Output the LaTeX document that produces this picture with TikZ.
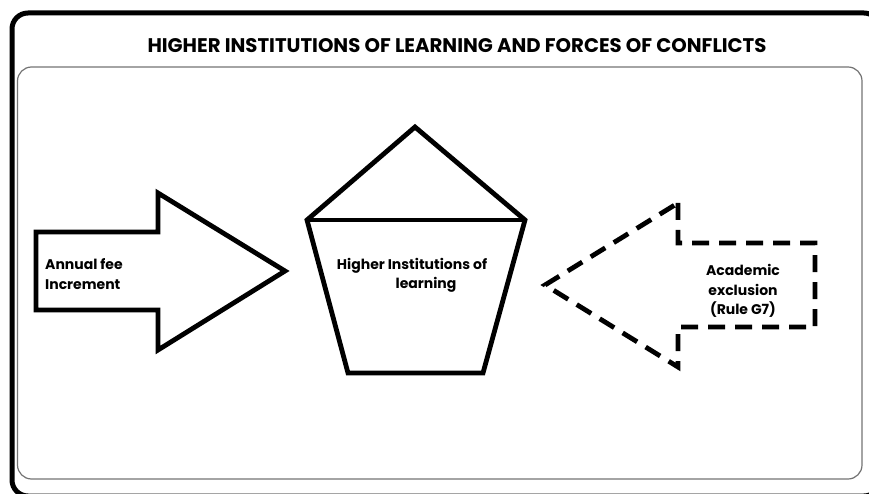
\documentclass[tikz,border=0pt]{standalone}
\usepackage{fontspec}
\setmainfont{Poppins}
\begin{document}
\begin{tikzpicture}[x=1pt,y=-1pt,line join=miter,
  thickline/.style={line width=4.8pt},
  lbl/.style={font=\bfseries\fontsize{14}{19.5}\selectfont, inner sep=0pt}]
\useasboundingbox (0,0) rectangle (869,494);
\clip (0,0) rectangle (869,494);
% frames
\draw[line width=5pt, rounded corners=16pt] (12,13) rectangle (880,496);
\draw[black!55, line width=1.2pt, rounded corners=14pt] (17.5,67) rectangle (862,479);
\node[font=\bfseries\fontsize{19.7}{22}\selectfont, inner sep=0pt] (title) at (457,46) {HIGHER INSTITUTIONS OF LEARNING AND FORCES OF CONFLICTS};
% left arrow
\coordinate (la1) at (36,232);
\coordinate (la2) at (158,232);
\coordinate (la3) at (158,193);
\coordinate (la4) at (285,271);
\coordinate (la5) at (158,350);
\coordinate (la6) at (158,310);
\coordinate (la7) at (36,310);
\draw[thickline] (la1) -- (la2) -- (la3) -- (la4) -- (la5) -- (la6) -- (la7) -- cycle;
\node[lbl, anchor=west, align=left] (fee) at (45,274) {Annual fee\\Increment};
% pentagon
\coordinate (p1) at (415,127);
\coordinate (p2) at (525,220);
\coordinate (p3) at (483,373);
\coordinate (p4) at (348,373);
\coordinate (p5) at (307,220);
\draw[thickline] (p1) -- (p2) -- (p3) -- (p4) -- (p5) -- cycle;
\draw[thickline] (p5) -- (p2);
\node[lbl] (hil1) at (412,266) {Higher Institutions of};
\node[lbl] (hil2) at (426,285) {learning};
% right dashed arrow
\coordinate (ra1) at (545,285);
\coordinate (ra2) at (678,203);
\coordinate (ra3) at (678,243);
\coordinate (ra4) at (815,243);
\coordinate (ra5) at (815,327);
\coordinate (ra6) at (678,327);
\coordinate (ra7) at (678,367);
\draw[thickline, dash pattern=on 17pt off 10pt] (ra2) -- (ra3) -- (ra4) -- (ra5) -- (ra6) -- (ra7) -- (ra1) -- cycle;
\node[lbl, align=center] (acad) at (743,291) {Academic\\exclusion\\(Rule G7)};
\end{tikzpicture}
\end{document}
